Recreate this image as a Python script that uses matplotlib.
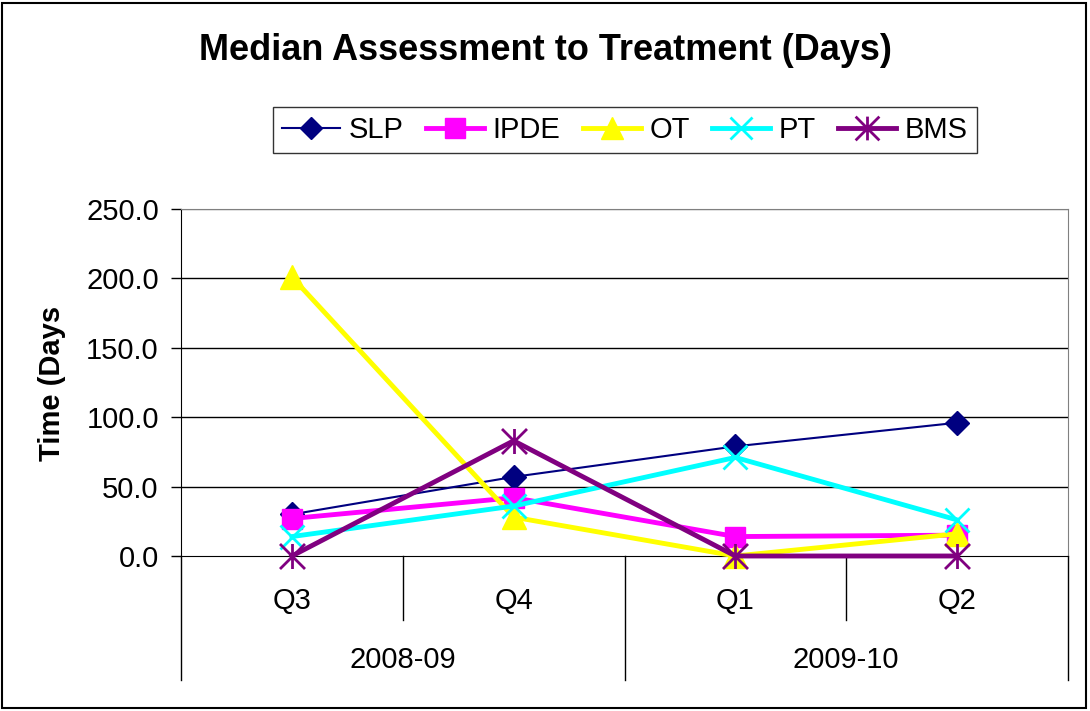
import numpy as np
import matplotlib
matplotlib.use("Agg")
from matplotlib import pyplot as plt
from matplotlib.path import Path
from matplotlib.patches import Rectangle

plt.rcParams["font.family"] = ["Liberation Sans", "DejaVu Sans"]

quarters = ["Q3", "Q4", "Q1", "Q2"]
years = ["2008-09", "2009-10"]
series_names = ["SLP", "IPDE", "OT", "PT", "BMS"]
slp = [30.0, 57.0, 79.0, 96.0]
ipde = [27.0, 42.0, 14.0, 15.0]
ot = [201.0, 28.0, 0.0, 16.0]
pt = [14.0, 36.0, 71.0, 26.0]
bms = [0.0, 83.0, 0.0, 0.0]

# excel style asterisk: X plus vertical bar
star = Path(
    [(-1, -1), (1, 1), (-1, 1), (1, -1), (0, -1), (0, 1)],
    [Path.MOVETO, Path.LINETO, Path.MOVETO, Path.LINETO, Path.MOVETO, Path.LINETO],
)

styles = [
    dict(color="#000080", lw=1.5, marker="D", ms=12, mec="#000080", mfc="#000080"),
    dict(color="#FF00FF", lw=3.5, marker="s", ms=15, mec="#FF00FF", mfc="#FF00FF"),
    dict(color="#FFFF00", lw=3.5, marker="^", ms=17, mec="#FFFF00", mfc="#FFFF00"),
    dict(color="#00FFFF", lw=3.5, marker="x", ms=17, mew=2, mec="#00FFFF"),
    dict(color="#800080", lw=3.5, marker=star, ms=18, mew=2, mec="#800080"),
]

fig = plt.figure(figsize=(10.9, 7.11), dpi=100)
ax = fig.add_axes([181 / 1090, 1 - 556 / 711, (1068 - 181) / 1090, (556 - 209) / 711])

x = np.arange(len(quarters))
handles = []
for name, vals, st in zip(series_names, [slp, ipde, ot, pt, bms], styles):
    (h,) = ax.plot(x, vals, label=name, clip_on=False, zorder=3, **st)
    handles.append(h)

ax.set_xlim(-0.5, len(quarters) - 0.5)
ax.set_ylim(0, 250)
ax.set_yticks(np.arange(0, 251, 50))
ax.set_yticklabels([f"{v:.1f}" for v in np.arange(0, 251, 50)], fontsize=21)
ax.tick_params(axis="y", direction="out", length=7, width=1, color="black", pad=9)
ax.set_xticks([])
for v in np.arange(50, 250, 50):
    ax.axhline(v, color="black", lw=1, zorder=1)
ax.axhline(250, color="#808080", lw=1, zorder=1)
ax.spines["top"].set_color("#808080")
ax.spines["right"].set_color("#808080")
ax.spines["left"].set_color("black")
ax.spines["bottom"].set_color("black")

# two-level category axis
trans = ax.get_xaxis_transform()
for i, q in enumerate(quarters):
    ax.text(i, -0.13, q, transform=trans, ha="center", va="center", fontsize=21)
for j, yr in enumerate(years):
    ax.text(2 * j + 0.5, -0.30, yr, transform=trans, ha="center", va="center", fontsize=21)
for xs, depth in [(-0.5, -0.357), (0.5, -0.184), (1.5, -0.357), (2.5, -0.184), (3.5, -0.357)]:
    ax.plot([xs, xs], [0, depth], transform=trans, color="black", lw=1, clip_on=False)

fig.text(52 / 1090, 1 - 383 / 711, "Time (Days", rotation=90, ha="center", va="center",
         fontsize=21, fontweight="bold")
fig.text(0.5, 1 - 50 / 711, "Median Assessment to Treatment (Days)", ha="center", va="center",
         fontsize=26, fontweight="bold")

leg = fig.legend(handles=handles, loc="center", bbox_to_anchor=(625 / 1090, 1 - 130 / 711),
                 ncol=5, fontsize=21, frameon=True, fancybox=False, handlelength=2.0,
                 columnspacing=0.75, handletextpad=0.3, borderpad=0.3, markerscale=0.95)
leg.get_frame().set_edgecolor("black")
leg.get_frame().set_linewidth(1)

fig.patches.append(Rectangle((2 / 1090, 3 / 711), 1084 / 1090, 705 / 711, transform=fig.transFigure,
                             fill=False, edgecolor="black", lw=1.5))

fig.savefig("out.png", dpi=100)
